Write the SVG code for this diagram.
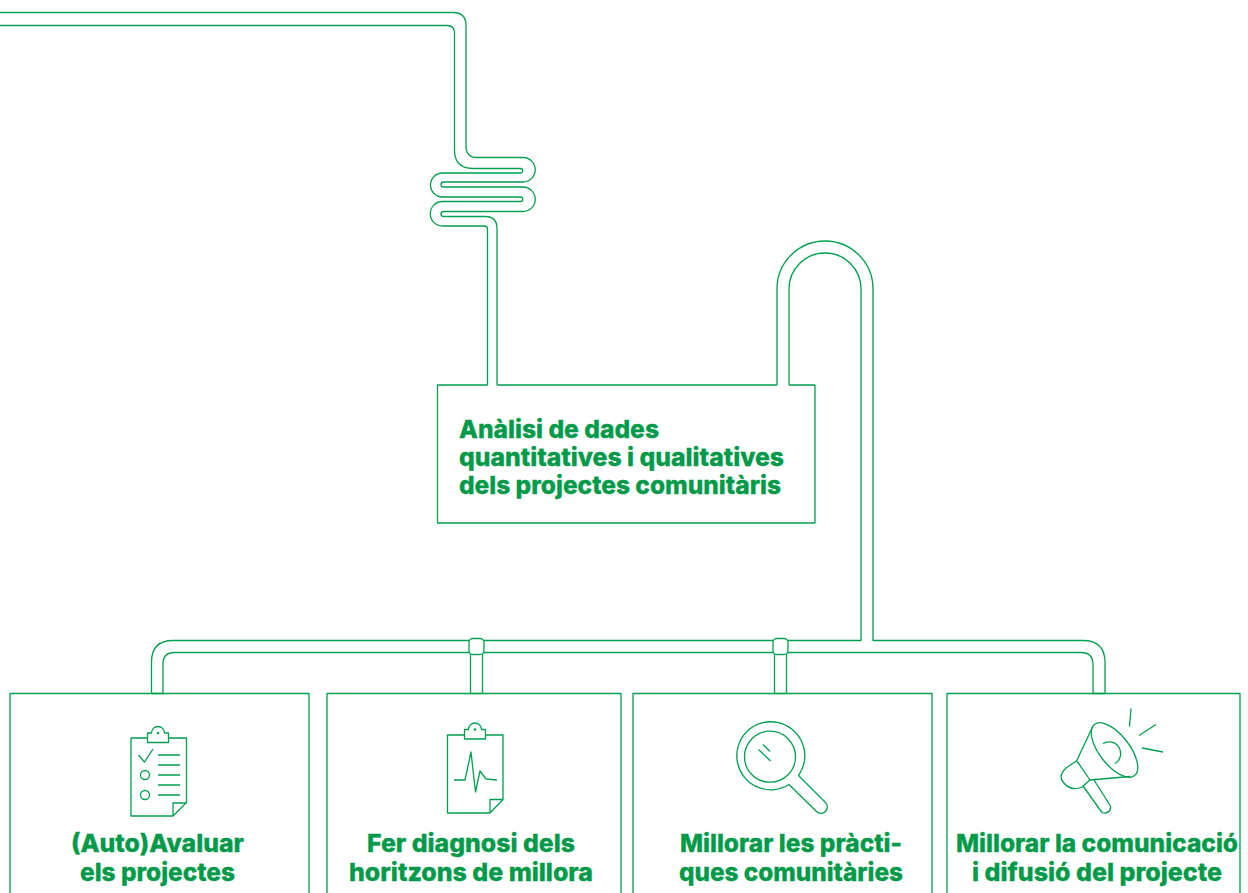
<svg xmlns="http://www.w3.org/2000/svg" width="1248" height="893" viewBox="0 0 1248 893">
<style>
.l{fill:none;stroke:#00a04f;stroke-width:1.300;stroke-linejoin:round}
.w{fill:#fff;stroke:#00a04f;stroke-width:1.300}
.t{font-family:"Inter","Liberation Sans",sans-serif;font-weight:800;font-size:24.5px;fill:#009a49;stroke:#009a49;stroke-width:.3}
.m{text-anchor:middle}
.d{fill:#00a04f}
</style>
<rect width="1248" height="893" fill="#fff"/>
<g id="connectors">
<path class="l" d="M0 12.5H453Q466 12.500 466 25.500V146Q466 157.500 477 157.500H523A12.250 12.250 0 0 1 523 182H443.500A2.500 2.500 0 0 0 443.500 187H523A12.250 12.250 0 0 1 523 211.500H443.500A2.500 2.500 0 0 0 443.500 216.500H485Q497 216.500 497 228.500V385"/>
<path class="l" d="M0 25.500H447Q454.500 25.500 454.500 33V150Q454.500 168.500 473 168.500H520.500A2.250 2.250 0 0 1 520.500 173H442.500A12 12 0 0 0 442.500 197H520.500A2.250 2.250 0 0 1 520.500 201.500H442.500A12.250 12.250 0 0 0 442.500 226H484Q487.500 226 487.500 229.500V385"/>
<path class="l" d="M777 385V289A48 48 0 0 1 873 289V640.500H1083Q1105 640.500 1105 662.500V693.500"/>
<path class="l" d="M789 385V289A36 36 0 0 1 861 289V640.500H173Q151.500 640.500 151.500 662V693.500"/>
<path class="l" d="M163 693.500V664Q163 652.500 174.500 652.500H1081Q1093 652.500 1093 664.500V693.500"/>
<path class="l" d="M151.500 693.500H163M1093 693.500H1105"/>
<rect class="w" x="470.500" y="650" width="12" height="43.500"/>
<rect class="w" x="774.500" y="650" width="12" height="43.500"/>
<rect class="w" x="469" y="638.500" width="15" height="16" rx="4"/>
<rect class="w" x="773" y="638.500" width="15" height="16" rx="4"/>
</g>
<g id="node-analisi">
<path class="l" d="M487.500 385H437.500V523H815V385H789M777 385H497"/>
<text class="t" x="459" y="438" textLength="200" lengthAdjust="spacingAndGlyphs">Anàlisi de dades</text>
<text class="t" x="459" y="466" textLength="325" lengthAdjust="spacingAndGlyphs">quantitatives i qualitatives</text>
<text class="t" x="459" y="494" textLength="322" lengthAdjust="spacingAndGlyphs">dels projectes comunitàris</text>
</g>
<g id="node-avaluar">
<path class="l" d="M10 893V693.500H309V893"/>
<path class="l" d="M147.500 738H131V816H173L186.500 802.500V738H168.500M173 816V803H186.500"/>
<path class="l" d="M147.500 742.500V733H151.500A6.500 6.500 0 0 1 164.500 733H168.500V742.500Z"/>
<circle class="d" cx="158" cy="733" r="1.300"/>
<path class="l" d="M138.500 755L144.500 762L153 749M158 755H180M158 765H180M158 775H180M158 785H180M158 795H180"/>
<circle class="l" cx="145" cy="775" r="4.500"/>
<circle class="l" cx="145" cy="795" r="4.500"/>
<text class="t m" x="157.500" y="852" textLength="173" lengthAdjust="spacingAndGlyphs">(Auto)Avaluar</text>
<text class="t m" x="157.500" y="881" textLength="155" lengthAdjust="spacingAndGlyphs">els projectes</text>
</g>
<g id="node-diagnosi">
<path class="l" d="M464.500 735H447.500V813H490L503 799.500V735H485.500M490 813V799.500H503"/>
<path class="l" d="M464.500 739V729.500H468.500A6.500 6.500 0 0 1 481.500 729.500H485.500V739Z"/>
<path class="l" d="M327 893V693.500H621V893"/>
<circle class="d" cx="475" cy="729.500" r="1.300"/>
<path class="l" d="M454 780H465L471 752L475.500 792L480 771L486 779L497 780"/>
<text class="t m" x="471" y="852" textLength="208" lengthAdjust="spacingAndGlyphs">Fer diagnosi dels</text>
<text class="t m" x="471" y="881" textLength="244" lengthAdjust="spacingAndGlyphs">horitzons de millora</text>
</g>
<g id="node-practiques">
<path class="l" d="M633 893V693.500H932V893"/>
<path class="l" d="M798.500 775.500L825.500 802.500A6.200 6.200 0 0 1 816.500 811.500L789 784.500A34 34 0 1 1 798.500 775.500Z"/>
<circle class="l" cx="770" cy="756.700" r="25.500"/>
<path class="l" d="M758.500 749.500L770.500 761M763 744.500L770 751.500"/>
<text class="t m" x="791" y="852" textLength="222" lengthAdjust="spacingAndGlyphs">Millorar les pràcti-</text>
<text class="t m" x="791" y="881" textLength="224" lengthAdjust="spacingAndGlyphs">ques comunitàries</text>
</g>
<g id="node-comunicacio">
<path class="l" d="M947 893V693.500H1240V893"/>
<ellipse class="l" cx="1114.500" cy="750" rx="32.500" ry="15" transform="rotate(52 1114.500 750)"/>
<path class="l" d="M1093 726L1076.700 760.700L1090 780L1130 776.500"/>
<path class="l" d="M1076.700 760.700L1066 768Q1058 776 1063 782Q1071 792 1082 787L1090 780"/>
<path class="l" d="M1083 786L1102 812.500A6 6 0 0 0 1110.500 806L1094 780"/>
<path class="l" d="M1103 743.500A11.500 11.500 0 0 1 1115 763.500"/>
<path class="l" d="M1131 708.500L1129.500 726.500M1156 724.500L1139 735.500M1142 748L1163 752"/>
<text class="t m" x="1097" y="852" textLength="282" lengthAdjust="spacingAndGlyphs">Millorar la comunicació</text>
<text class="t m" x="1097" y="881" textLength="250" lengthAdjust="spacingAndGlyphs">i difusió del projecte</text>
</g>
</svg>
